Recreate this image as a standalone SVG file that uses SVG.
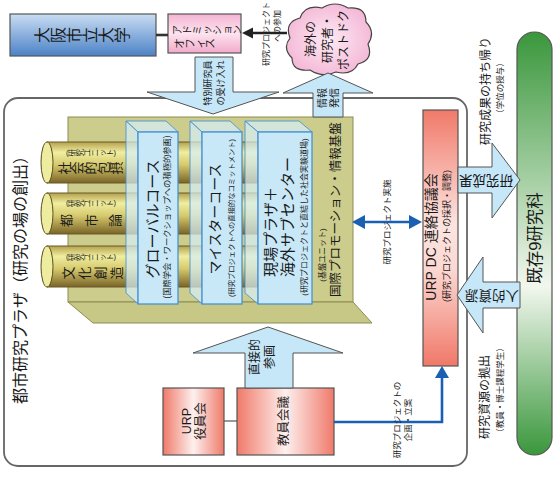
<svg xmlns="http://www.w3.org/2000/svg" width="556" height="478" viewBox="0 0 556 478">
<defs>
<style>
.t{font-family:"Liberation Sans","Noto Sans CJK JP",sans-serif;fill:#1a1a1a}
.h{dominant-baseline:central;text-anchor:middle}
.hs{dominant-baseline:central;text-anchor:start}
.m{text-anchor:middle}
.s{text-anchor:start}
.box{stroke:#555;stroke-width:1.2}
.blk{fill:#c6e7f8;stroke:#555;stroke-width:1}
.bf{fill:#c8e8f8;stroke:#3d8cd6;stroke-width:1.2}
.bs{fill:#d6eef8;fill-opacity:.7;stroke:#3d8cd6;stroke-width:.8}
.cylb{fill:url(#gCyl)}
.cyle{fill:#eeec9e;stroke:#5c4c1e;stroke-width:1}
.cyll{stroke:#6a5a26;stroke-width:1;fill:none}
.blue{stroke:#1b5fb3;stroke-width:2.6;fill:none}
.blueh{fill:#1b5fb3}
</style>
<linearGradient id="gUniv" x1="0" y1="0" x2="0" y2="1"><stop offset="0" stop-color="#c9ddf3"/><stop offset="1" stop-color="#4c82c6"/></linearGradient>
<linearGradient id="gAdm" x1="0" y1="0" x2="0" y2="1"><stop offset="0" stop-color="#f4b4d2"/><stop offset=".5" stop-color="#fce4ef"/><stop offset="1" stop-color="#f2aacb"/></linearGradient>
<radialGradient id="gCloud" cx=".5" cy=".5" r=".6"><stop offset="0" stop-color="#fdeaf4"/><stop offset="1" stop-color="#f3b2d3"/></radialGradient>
<linearGradient id="gCyl" x1="0" y1="0" x2="0" y2="1"><stop offset="0" stop-color="#b3a04c"/><stop offset=".25" stop-color="#f0eea0"/><stop offset=".55" stop-color="#d6ca6e"/><stop offset="1" stop-color="#7a6428"/></linearGradient>
<linearGradient id="gDC" x1="0" y1="0" x2="0" y2="1"><stop offset="0" stop-color="#f07a6a"/><stop offset=".45" stop-color="#fde4e0"/><stop offset=".62" stop-color="#fcd8d2"/><stop offset="1" stop-color="#f07868"/></linearGradient>
<linearGradient id="gRedH" x1="0" y1="0" x2="1" y2="0"><stop offset="0" stop-color="#f07a6a"/><stop offset=".5" stop-color="#fdf0ee"/><stop offset="1" stop-color="#f07a6a"/></linearGradient>
<linearGradient id="gGreen" x1="0" y1="0" x2="0" y2="1"><stop offset="0" stop-color="#3a973c"/><stop offset=".6" stop-color="#f2f7ee"/><stop offset="1" stop-color="#3a973c"/></linearGradient>
</defs>

<g id="plaza-frame">
<rect x="4" y="98" width="463" height="368" rx="14" fill="#fff" stroke="#666" stroke-width="1.8"/>
<text class="t hs" transform="translate(20,404) rotate(-90)" font-size="16">都市研究プラザ（研究の場の創出）</text>
</g>

<g id="platform">
<rect x="68" y="117" width="285" height="185" fill="#cccc8c" stroke="#8c8c55" stroke-width="1"/>
<polygon points="68,302 353,302 372,323 93,323" fill="#c8c886" stroke="#8c8c55" stroke-width="1"/>
<text class="t hs" transform="translate(336,297) rotate(-90)" font-size="12.5">国際プロモーション・情報基盤</text>
<text class="t h" transform="translate(322,255) rotate(-90)" font-size="8">(基盤ユニット)</text>
</g>

<g id="unit-social">
<rect class="cylb" x="47" y="142" width="253" height="41"/>
<path class="cyll" d="M47 142H300M47 183H300"/>
<ellipse class="cyle" cx="47" cy="162.5" rx="6" ry="20.5"/>
<text class="t s" x="66" y="156.5" font-size="7.5" rotate="0 -90 -90 -90 -90 -90 -90 0" dx="0 6.6 0 0 0 0 0 -6.6" dy="-1.75 1.75 0 0 0 0 0 -1.75">(研究ユニット)</text>
<text class="t s" x="69.4" y="174.5" font-size="13" rotate="-90">社会的包摂</text>
</g>
<g id="unit-urban">
<rect class="cylb" x="47" y="193" width="253" height="41"/>
<path class="cyll" d="M47 193H300M47 234H300"/>
<ellipse class="cyle" cx="47" cy="213.5" rx="6" ry="20.5"/>
<text class="t s" x="66" y="207" font-size="7.5" rotate="0 -90 -90 -90 -90 -90 -90 0" dx="0 6.6 0 0 0 0 0 -6.6" dy="-1.75 1.75 0 0 0 0 0 -1.75">(研究ユニット)</text>
<text class="t s" x="71.4" y="227" font-size="13" letter-spacing="11.5" rotate="-90">都市論</text>
</g>
<g id="unit-culture">
<rect class="cylb" x="47" y="246" width="253" height="41"/>
<path class="cyll" d="M47 246H300M47 287H300"/>
<ellipse class="cyle" cx="47" cy="266.5" rx="6" ry="20.5"/>
<text class="t s" x="66" y="261" font-size="7.5" rotate="0 -90 -90 -90 -90 -90 -90 0" dx="0 6.6 0 0 0 0 0 -6.6" dy="-1.75 1.75 0 0 0 0 0 -1.75">(研究ユニット)</text>
<text class="t s" x="73.4" y="279.5" font-size="13" letter-spacing="3" rotate="-90">文化創造</text>
</g>

<g id="global-course">
<polygon class="bs" points="126,121 166,121 178,132 138,132"/>
<polygon class="bs" points="126,121 138,132 138,304 126,293"/>
<rect class="bf" x="138" y="132" width="40" height="172"/>
<text class="t h" transform="translate(152,219) rotate(-90)" font-size="15">グローバルコース</text>
<text class="t h" transform="translate(167,217) rotate(-90)" font-size="8.3">(国際学会・ワークショップへの積極的参画)</text>
</g>
<g id="meister-course">
<polygon class="bs" points="190,121 230,121 242,132 202,132"/>
<polygon class="bs" points="190,121 202,132 202,304 190,293"/>
<rect class="bf" x="202" y="132" width="40" height="172"/>
<text class="t h" transform="translate(215,219) rotate(-90)" font-size="14">マイスターコース</text>
<text class="t h" transform="translate(231,218) rotate(-90)" font-size="7.3">(研究プロジェクトへの直接的なコミットメント)</text>
</g>
<g id="genba-plaza">
<polygon class="bs" points="245,121 299,121 312,132 258,132"/>
<polygon class="bs" points="245,121 258,132 258,304 245,293"/>
<rect class="bf" x="258" y="132" width="54" height="172"/>
<text class="t hs" transform="translate(270,277) rotate(-90)" font-size="15">現場プラザ＋</text>
<text class="t hs" transform="translate(287,277) rotate(-90)" font-size="15">海外サブセンター</text>
<text class="t h" transform="translate(304,217) rotate(-90)" font-size="8">(研究プロジェクトと直結した社会実験道場)</text>
</g>

<g id="urp-dc">
<rect class="box" x="423" y="110" width="35" height="256" fill="url(#gDC)"/>
<text class="t h" transform="translate(431,237) rotate(-90)" font-size="14">URP DC 連絡協議会</text>
<text class="t h" transform="translate(447,236) rotate(-90)" font-size="9">(研究プロジェクトの採択・調整)</text>
</g>

<g id="urp-board">
<rect class="box" x="163" y="388" width="61" height="67" fill="url(#gRedH)"/>
<text class="t h" transform="translate(187,421) rotate(-90)" font-size="12.5">URP</text>
<text class="t h" transform="translate(201,421) rotate(-90)" font-size="12.5">役員会</text>
</g>
<g id="faculty-meeting">
<rect class="box" x="237" y="388" width="97" height="67" fill="url(#gRedH)"/>
<text class="t h" transform="translate(284,421) rotate(-90)" font-size="12.5">教員会議</text>
</g>

<g id="osaka-univ">
<rect class="box" x="10" y="14" width="146" height="42" fill="url(#gUniv)"/>
<text class="t m" x="96.1" y="43" font-size="16" rotate="-90">大阪市立大学</text>
</g>
<g id="admission-office">
<rect class="box" x="168" y="14" width="73" height="39" fill="url(#gAdm)"/>
<text class="t s" x="180.8" y="35" font-size="10" rotate="-90">アドミッション</text>
<text class="t s" x="183.2" y="48.8" font-size="10.5" rotate="-90">オフィス</text>
</g>
<g id="overseas-researchers">
<path d="M300 18Q305 4 322 8Q335 0 348 8Q366 6 366 22Q376 32 368 44Q374 60 358 64Q352 76 336 72Q322 78 310 70Q292 72 292 58Q282 48 290 38Q284 22 300 18Z" fill="url(#gCloud)" stroke="#444" stroke-width="1.2"/>
<text class="t h" transform="translate(311,39) rotate(-90)" font-size="12">海外の</text>
<text class="t h" transform="translate(328,39) rotate(-90)" font-size="12">研究者・</text>
<text class="t h" transform="translate(344,40) rotate(-90)" font-size="12">ポストドク</text>
</g>

<g id="graduate-schools">
<rect x="517" y="32" width="35" height="423" rx="17.5" fill="url(#gGreen)" stroke="#555" stroke-width="1.2"/>
<text class="t h" transform="translate(535,238) rotate(-90)" font-size="16.5">既存9研究科</text>
</g>

<g id="connectors">
<line x1="156" y1="35" x2="168" y2="35" stroke="#333" stroke-width="2.6"/>
<line x1="287" y1="33" x2="252" y2="33" stroke="#222" stroke-width="2.6"/>
<polygon points="242,33 253,27.5 253,38.5" fill="#222"/>
<text class="t h" transform="translate(266,34) rotate(-90)" font-size="8">研究プロジェクト</text>
<text class="t h" transform="translate(277,26) rotate(-90)" font-size="8">への参加</text>

<polygon class="blk" points="195,57 233,57 233,92 279,92 213,114 147,92 195,92"/>
<text class="t h" transform="translate(207.5,83) rotate(-90)" font-size="9">特別研究員</text>
<text class="t h" transform="translate(221,83) rotate(-90)" font-size="9">の受け入れ</text>

<polygon class="blk" points="313,117 343,117 343,93 373,93 328,73 283,93 313,93"/>
<text class="t h" transform="translate(322,98) rotate(-90)" font-size="10">情報</text>
<text class="t h" transform="translate(334,98) rotate(-90)" font-size="10">発信</text>

<line class="blue" x1="364" y1="222" x2="410" y2="222"/>
<polygon class="blueh" points="352,222 365,215 365,229"/>
<polygon class="blueh" points="422,222 409,215 409,229"/>
<text class="t h" transform="translate(387,222) rotate(-90)" font-size="8.5">研究プロジェクト実施</text>

<polygon class="blk" points="458,167 492,167 492,143 520,180 492,218 492,193 458,193"/>
<text class="t h" transform="translate(486,180) rotate(180)" font-size="13.5">研究成果</text>
<text class="t h" transform="translate(486,91) rotate(-90)" font-size="12">研究成果の持ち帰り</text>
<text class="t h" transform="translate(500,88) rotate(-90)" font-size="8.5">（学位の授与）</text>

<polygon class="blk" points="457,295 483,257 483,282 520,282 520,308 483,308 483,333"/>
<text class="t h" transform="translate(492,295) rotate(180)" font-size="13.5">人的資源</text>
<text class="t h" transform="translate(485,397) rotate(-90)" font-size="12">研究資源の拠出</text>
<text class="t h" transform="translate(500,390) rotate(-90)" font-size="8.5">（教員・博士課程学生）</text>

<polygon class="blk" points="245,388 293,388 293,353 343,353 268,327 193,353 245,353"/>
<text class="t h" transform="translate(255,357) rotate(-90)" font-size="12">直接的</text>
<text class="t h" transform="translate(270,357) rotate(-90)" font-size="12">参画</text>

<line x1="224" y1="421" x2="237" y2="421" stroke="#555" stroke-width="1.2"/>
<polyline class="blue" points="334,422 442,422 442,376"/>
<polygon class="blueh" points="442,366 435,378 449,378"/>
<text class="t h" transform="translate(397,420) rotate(-90)" font-size="8.5">研究プロジェクトの</text>
<text class="t h" transform="translate(408,420) rotate(-90)" font-size="8.5">企画・立案</text>
</g>
</svg>
